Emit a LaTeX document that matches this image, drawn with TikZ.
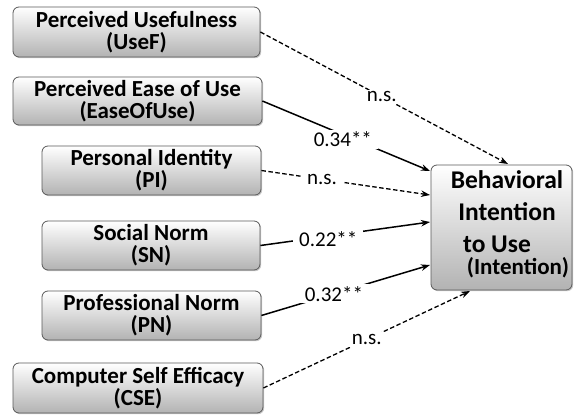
\documentclass[tikz,border=0pt]{standalone}
\usepackage{fontspec}
\setmainfont{Carlito}
\usetikzlibrary{arrows.meta,shadows}
\begin{document}
\begin{tikzpicture}[x=1pt,y=-1pt,
  box/.style={draw=black!65, line width=0.8pt, rounded corners=6pt,
    top color=white, bottom color=black!30, inner sep=0pt,
    drop shadow={shadow xshift=1.2pt, shadow yshift=-1.2pt, opacity=0.35, fill=black!60},
    align=center, font=\fontsize{23}{22}\selectfont\bfseries},
  lbl/.style={fill=white, inner xsep=6pt, inner ysep=2pt, font=\fontsize{21}{23}\selectfont},
  big/.style={font=\fontsize{25.5}{28}\selectfont\bfseries, anchor=base, inner sep=0pt},
  sig/.style={line width=1.5pt, -{Stealth[length=9pt,width=6.5pt]}},
  nsig/.style={line width=1.3pt, dash pattern=on 4.5pt off 2.5pt, -{Stealth[length=9pt,width=6.5pt]}}]
\useasboundingbox (0,0) rectangle (574,415);
\node[box, minimum width=247pt, minimum height=50pt] (usef) at (136.5,32) {Perceived Usefulness\\(UseF)};
\node[box, minimum width=249pt, minimum height=48pt] (ease) at (137.5,101) {Perceived Ease of Use\\(EaseOfUse)};
\node[box, minimum width=219pt, minimum height=49pt] (pi) at (151.5,170.5) {Personal Identity\\(PI)};
\node[box, minimum width=218pt, minimum height=49pt] (sn) at (151,245.5) {Social Norm\\(SN)};
\node[box, minimum width=219pt, minimum height=49pt] (pn) at (151.5,315.5) {Professional Norm\\(PN)};
\node[box, minimum width=250pt, minimum height=50pt] (cse) at (138,388) {Computer Self Efficacy\\(CSE)};
\node[box, minimum width=141pt, minimum height=125pt] (bi) at (501.5,227.5) {};
\node[big] (t1) at (507,188) {Behavioral};
\node[big] (t2) at (507,220) {Intention};
\node[big] (t3) at (497,252) {to Use};
\node[font=\fontsize{23}{25}\selectfont\bfseries, anchor=base, inner sep=0pt] (t4) at (518,274) {(Intention)};
\coordinate (e1) at (508,164);
\coordinate (e2) at (430,171);
\coordinate (e3) at (430,195);
\coordinate (e4) at (430,222);
\coordinate (e5) at (430,265);
\coordinate (e6) at (470,291);
\draw[nsig] (usef.east) -- node[lbl, pos=0.49] {n.s.} (e1);
\draw[sig] (ease.east) -- node[lbl, pos=0.48, yshift=-5pt] {0.34**} (e2);
\draw[nsig] (pi.east) -- node[lbl, pos=0.36] {n.s.} (e3);
\draw[sig] (sn.east) -- node[lbl, pos=0.4, yshift=-3pt] {0.22**} (e4);
\draw[sig] (pn.east) -- node[lbl, pos=0.43] {0.32**} (e5);
\draw[nsig] (cse.east) -- node[lbl, pos=0.5] {n.s.} (e6);
\end{tikzpicture}
\end{document}
